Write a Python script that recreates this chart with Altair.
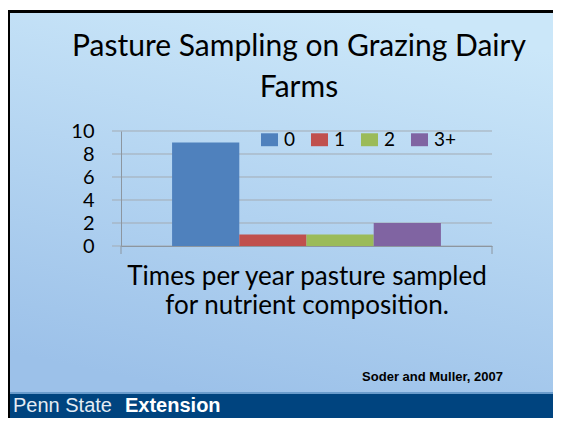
import altair as alt
import pandas as pd

categories = ["0", "1", "2", "3+"]
counts = [9, 1, 1, 2]
bar_colors = ["#4f81bd", "#c0504d", "#9bbb59", "#8064a2"]
y_ticks = [0, 2, 4, 6, 8, 10]
title_line1 = "Pasture Sampling on Grazing Dairy"
title_line2 = "Farms"
xtitle_lines = ["Times per year pasture sampled", "for nutrient composition."]
citation = "Soder and Muller, 2007"
footer_a = "Penn State"
footer_b = "Extension"

W, H = 371, 115
GRAY = "#8c96a0"
RIGHT = 432
BOTTOM = 287

bars_df = pd.DataFrame({"group": ["all"] * len(categories), "times": categories, "farms": counts})
grid_df = pd.DataFrame({"tick": y_ticks})
one = pd.DataFrame({"k": [0]})

yscale = alt.Scale(domain=[0, 10], nice=False)
yaxis = alt.Axis(values=y_ticks, title=None, domain=True, domainColor=GRAY,
                 ticks=False, labelPadding=27, labelFont="Lato",
                 labelFontSize=20, labelColor="black", labelOverlap=False,
                 labelBound=False, labelFlush=False, grid=False, zindex=1)


def box(x, x2, y, y2):
    return dict(x=alt.value(x), x2=alt.value(x2), y=alt.value(y), y2=alt.value(y2))


black = alt.Chart(one).mark_rect(fill="black").encode(**box(-114, RIGHT, -121, BOTTOM))
slide = alt.Chart(one).mark_rect(
    fill=alt.LinearGradient(
        gradient="linear", x1=0.35, y1=1, x2=0.65, y2=0,
        stops=[alt.GradientStop(offset=0, color="#9cc1e9"),
               alt.GradientStop(offset=1, color="#cbe7f9")],
    )
).encode(**box(-111, RIGHT, -118, 262))
footer = alt.Chart(one).mark_rect(fill="#00447f").encode(**box(-111, RIGHT, 262, BOTTOM))
footer_line = alt.Chart(one).mark_rule(color="#6a9ccc", strokeWidth=2).encode(
    x=alt.value(-111), x2=alt.value(RIGHT), y=alt.value(262))

grid = alt.Chart(grid_df).mark_rule(color="#a3abb3", strokeWidth=1).encode(
    y=alt.Y("tick:Q", scale=yscale, axis=yaxis),
    x=alt.value(-9), x2=alt.value(W),
)

bars = alt.Chart(bars_df).mark_bar().encode(
    x=alt.X("group:N", scale=alt.Scale(paddingInner=0, paddingOuter=0.19),
            axis=alt.Axis(labels=False, ticks=False, domain=True, domainColor=GRAY,
                          title=xtitle_lines, titleFont="Lato", titleFontSize=26,
                          titleFontWeight="normal", titleColor="black",
                          titleLineHeight=29, titlePadding=17, zindex=1)),
    xOffset=alt.XOffset("times:N", sort=categories,
                        scale=alt.Scale(paddingInner=0, paddingOuter=0)),
    y=alt.Y("farms:Q", scale=yscale, axis=yaxis),
    color=alt.Color("times:N", sort=categories,
                    scale=alt.Scale(domain=categories, range=bar_colors),
                    legend=alt.Legend(orient="none", legendX=139, legendY=-1,
                                      direction="horizontal", title=None,
                                      symbolType="M-1,-0.76H1V0.76H-1Z", symbolSize=289,
                                      symbolStrokeWidth=0, labelFont="Lato",
                                      labelFontSize=19, labelColor="black",
                                      labelOffset=5, columnPadding=14, padding=0)),
)

tick_l = alt.Chart(one).mark_rule(color=GRAY).encode(x=alt.value(0), y=alt.value(H), y2=alt.value(H + 8))
tick_r = alt.Chart(one).mark_rule(color=GRAY).encode(x=alt.value(W), y=alt.value(H), y2=alt.value(H + 8))

t1 = alt.Chart(one).mark_text(text=title_line1, font="Lato", fontSize=30, color="black",
                              align="center", baseline="alphabetic").encode(x=alt.value(178), y=alt.value(-75))
t2 = alt.Chart(one).mark_text(text=title_line2, font="Lato", fontSize=30, color="black",
                              align="center", baseline="alphabetic").encode(x=alt.value(178), y=alt.value(-34))
cite = alt.Chart(one).mark_text(text=citation, font="Liberation Sans", fontSize=13, fontWeight="bold",
                                color="black", align="right", baseline="alphabetic").encode(
    x=alt.value(382), y=alt.value(250))
fa = alt.Chart(one).mark_text(text=footer_a, font="Liberation Sans", fontSize=20, color="#e4ecf4",
                              align="left", baseline="alphabetic").encode(x=alt.value(-108), y=alt.value(281))
fb = alt.Chart(one).mark_text(text=footer_b, font="Liberation Sans", fontSize=20, fontWeight="bold",
                              color="white", align="left", baseline="alphabetic").encode(x=alt.value(4), y=alt.value(281))

chart = alt.layer(black, slide, footer, footer_line, grid, bars, tick_l, tick_r, t1, t2, cite, fa, fb).properties(
    width=W, height=H,
    padding={"left": 113, "top": 123, "right": 61, "bottom": 172},
    autosize=alt.AutoSizeParams(type="none"),
    background="white",
).configure_view(stroke=None)

chart.save("out.html", embed_options={"renderer": "svg", "actions": False})
